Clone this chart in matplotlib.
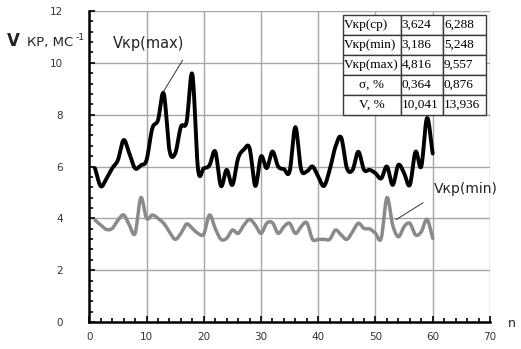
import numpy as np
import matplotlib
matplotlib.use('Agg')
import matplotlib.pyplot as plt
from matplotlib.ticker import MultipleLocator

# data
n = np.arange(1, 61)
v_max = [5.93, 5.24, 5.54, 5.93, 6.25, 7.02, 6.50, 5.93, 6.05, 6.25,
         7.47, 7.79, 8.82, 6.63, 6.50, 7.53, 7.72, 9.56, 5.89, 5.93,
         6.05, 6.58, 5.25, 5.87, 5.29, 6.32, 6.65, 6.71, 5.25, 6.39,
         5.94, 6.58, 6.00, 5.90, 5.81, 7.52, 5.90, 5.81, 6.00, 5.61,
         5.25, 5.87, 6.76, 7.12, 5.94, 5.87, 6.57, 5.87, 5.87, 5.74,
         5.54, 6.00, 5.29, 6.06, 5.74, 5.29, 6.57, 6.00, 7.87, 6.50]
v_min = [3.93, 3.74, 3.57, 3.61, 3.93, 4.13, 3.74, 3.42, 4.80, 4.00,
         4.13, 4.00, 3.81, 3.48, 3.19, 3.42, 3.78, 3.61, 3.42, 3.39,
         4.13, 3.61, 3.19, 3.23, 3.55, 3.42, 3.74, 3.96, 3.74, 3.42,
         3.81, 3.83, 3.42, 3.68, 3.81, 3.42, 3.68, 3.83, 3.19, 3.19,
         3.19, 3.19, 3.55, 3.36, 3.19, 3.48, 3.81, 3.61, 3.59, 3.42,
         3.23, 4.80, 3.74, 3.29, 3.68, 3.81, 3.36, 3.48, 3.96, 3.23]

row_names = ['Vкр(ср)', 'Vкр(min)', 'Vкр(max)', 'σ, %', 'V, %']
col_min = ['3,624', '3,186', '4,816', '0,364', '10,041']
col_max = ['6,288', '5,248', '9,557', '0,876', '13,936']


def smooth(x, y, k=12):
    # catmull-rom, like excel "smoothed line"
    x = np.asarray(x, float)
    y = np.asarray(y, float)
    px = np.concatenate([[2 * x[0] - x[1]], x, [2 * x[-1] - x[-2]]])
    py = np.concatenate([[2 * y[0] - y[1]], y, [2 * y[-1] - y[-2]]])
    t = np.linspace(0, 1, k, endpoint=False)
    xs, ys = [], []
    for i in range(1, len(px) - 2):
        for p, out in ((px, xs), (py, ys)):
            p0, p1, p2, p3 = p[i - 1], p[i], p[i + 1], p[i + 2]
            out.extend(0.5 * (2 * p1 + (-p0 + p2) * t
                              + (2 * p0 - 5 * p1 + 4 * p2 - p3) * t ** 2
                              + (-p0 + 3 * p1 - 3 * p2 + p3) * t ** 3))
    xs.append(x[-1])
    ys.append(y[-1])
    return xs, ys


fig = plt.figure(figsize=(5.21, 3.49), dpi=100)
ax = fig.add_axes([0.1714, 0.0774, 0.769, 0.891])

ax.plot(*smooth(n, v_min), color='#8a8a8a', lw=2.5, solid_capstyle='round', zorder=3)
ax.plot(*smooth(n, v_max), color='black', lw=2.8, solid_capstyle='round', zorder=4)

ax.set_xlim(0, 70)
ax.set_ylim(0, 12)
ax.xaxis.set_major_locator(MultipleLocator(10))
ax.xaxis.set_minor_locator(MultipleLocator(2))
ax.yaxis.set_major_locator(MultipleLocator(2))
ax.yaxis.set_minor_locator(MultipleLocator(0.4))
ax.grid(which='major', color='#a6a6a6', lw=1.0)
ax.set_axisbelow(True)
for s in ['top', 'right']:
    ax.spines[s].set_visible(False)
for s in ['left', 'bottom']:
    ax.spines[s].set_linewidth(1.8)
ax.tick_params(which='both', direction='in', width=1.2, colors='black',
               labelcolor='#333333', labelsize=7.5)
ax.tick_params(which='major', length=4)
ax.tick_params(which='minor', length=3)
ax.tick_params(axis='x', pad=7)
ax.tick_params(axis='y', pad=19)

# labels
fig.text(0.014, 0.868, 'V', fontsize=12, fontweight='bold', color='#222222')
fig.text(0.052, 0.868, 'КР, МС', fontsize=9.5, color='#222222')
fig.text(0.145, 0.885, '-1', fontsize=6.5, color='#222222')
fig.text(0.975, 0.062, 'n', fontsize=9, color='#222222')

ax.plot([12.9, 16.3], [8.87, 10.1], color='#333333', lw=0.7)
ax.text(10.3, 10.75, 'Vкр(max)', fontsize=10.5, ha='center', va='center', color='#222222')
ax.plot([53.6, 58.3], [3.95, 4.6], color='#333333', lw=0.7)
ax.text(65.8, 5.15, 'Vкр(min)', fontsize=10, ha='center', va='center', color='#222222')

# table
cells = [[r, a, b] for r, a, b in zip(row_names, col_min, col_max)]
tab = ax.table(cellText=cells, colWidths=[0.145, 0.105, 0.107],
               bbox=[0.633, 0.666, 0.357, 0.321], zorder=6)
tab.auto_set_font_size(False)
tab.set_fontsize(9.5)
for (r, c), cell in tab.get_celld().items():
    cell.set_edgecolor('#3a3a3a')
    cell.set_linewidth(1.0)
    cell.set_facecolor('white')
    cell.PAD = 0.02
    txt = cell.get_text()
    txt.set_fontfamily('Liberation Serif')
    if c == 0 and r >= 3:
        txt.set_horizontalalignment('center')
    else:
        txt.set_horizontalalignment('left')

fig.savefig('out.png', dpi=100)
